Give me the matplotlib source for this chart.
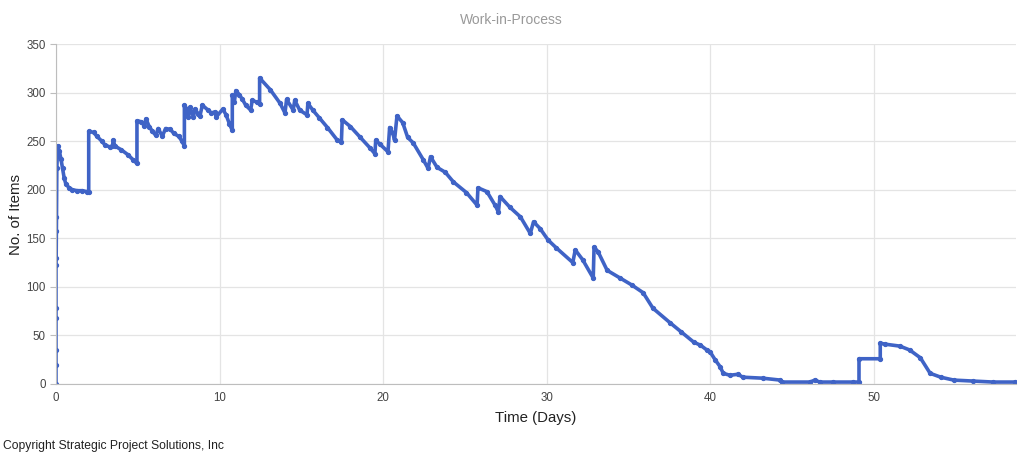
import matplotlib
matplotlib.use("Agg")
import matplotlib.pyplot as plt

plt.rcParams['font.family'] = ['Liberation Sans', 'DejaVu Sans']

title = "Work-in-Process"
x_label = "Time (Days)"
y_label = "No. of Items"
copyright_text = "Copyright Strategic Project Solutions, Inc"

time_days = [
    0.0, 0.0, 0.0, 0.0, 0.0, 0.0, 0.01, 0.02, 0.03, 0.05,
    0.1, 0.2, 0.3, 0.4, 0.5, 0.6, 0.8, 1.0, 1.3, 1.6, 1.9, 2.0,
    2.0, 2.3, 2.5, 2.8, 3.0, 3.3, 3.45, 3.5, 3.6, 4.0, 4.4, 4.7, 4.95,
    4.95, 5.2, 5.4, 5.5, 5.7, 5.9, 6.1, 6.25, 6.5, 6.7, 7.0, 7.2, 7.5, 7.7, 7.85,
    7.85, 8.0, 8.1, 8.2, 8.4, 8.5, 8.7, 8.8, 8.95, 9.3, 9.5, 9.7, 9.8, 10.2, 10.4, 10.6, 10.78,
    10.78, 10.9, 11.0, 11.2, 11.4, 11.6, 11.9, 12.0, 12.3, 12.45,
    12.45, 13.1, 13.7, 14.0, 14.1, 14.5, 14.6, 14.9, 15.35, 15.4, 15.7, 16.1, 16.6, 17.2, 17.45,
    17.5, 18.0, 18.6, 19.2, 19.5,
    19.55, 19.8, 20.3, 20.4, 20.6, 20.7, 20.85, 21.2, 21.5, 21.85, 22.45, 22.75, 22.9, 23.3,
    23.8, 24.3, 25.1, 25.75, 25.8, 26.35, 26.85, 27.05, 27.15, 27.75, 28.4, 29.0, 29.2, 29.6,
    30.1, 30.6, 31.6, 31.75, 32.2, 32.85, 32.9, 33.15, 33.7, 34.5, 35.2, 35.9, 36.5, 37.55,
    38.2, 39.0, 39.4, 39.8, 40.0, 40.3, 40.6, 40.8, 41.2, 41.7, 42.0, 43.2, 44.3, 44.4,
    46.1, 46.4, 46.7, 47.5, 48.75, 49.1, 49.1, 50.4, 50.4, 50.7, 51.6, 52.2, 52.85, 53.45,
    54.1, 54.9, 56.1, 57.3, 58.65,
]

wip_items = [
    0, 20, 35, 68, 78, 122, 130, 158, 172, 222,
    245, 240, 232, 222, 212, 206, 202, 200, 199, 199, 198, 198,
    260, 259, 255, 250, 246, 244, 245, 251, 245, 241, 236, 231, 227,
    271, 270, 266, 273, 265, 260, 256, 263, 255, 263, 262, 258, 255, 250, 245,
    287, 283, 275, 285, 275, 283, 278, 276, 287, 282, 279, 280, 275, 283, 277, 268, 261,
    297, 290, 302, 298, 293, 287, 282, 292, 290, 288,
    315, 303, 289, 279, 293, 282, 292, 282, 277, 289, 282, 274, 264, 251, 249,
    272, 265, 254, 243, 237,
    251, 247, 239, 264, 258, 251, 276, 269, 254, 248, 231, 222, 234, 223,
    218, 208, 197, 184, 202, 198, 184, 177, 193, 182, 172, 155, 167, 160,
    148, 140, 125, 138, 128, 109, 141, 136, 117, 109, 102, 94, 78, 63,
    54, 43, 40, 35, 33, 25, 18, 11, 9, 10, 7, 6, 4, 2,
    2, 4, 2, 2, 2, 2, 26, 26, 42, 41, 39, 35, 27, 11,
    7, 4, 3, 2, 2,
]

x_ticks = [0, 10, 20, 30, 40, 50]
y_ticks = [0, 50, 100, 150, 200, 250, 300, 350]

fig = plt.figure(figsize=(10.24, 4.59), dpi=100)
ax = fig.add_axes([56/1024, 1 - 384/459, 960/1024, 340/459])

ax.plot(time_days, wip_items, color='#3f63c6', linewidth=2.6,
        marker='o', markersize=2.8, solid_joinstyle='round')

ax.set_xlim(0, 58.7)
ax.set_ylim(0, 350)
ax.set_xticks(x_ticks)
ax.set_yticks(y_ticks)
ax.grid(True, color='#e4e4e4', linewidth=0.9)
ax.set_axisbelow(True)
for s in ['top', 'right']:
    ax.spines[s].set_visible(False)
ax.spines['left'].set_color('#bdbdbd')
ax.spines['bottom'].set_color('#bdbdbd')
ax.tick_params(axis='both', colors='#bdbdbd', labelcolor='#444444', labelsize=8.3, length=4)
ax.tick_params(axis='x', length=0, pad=6)

ax.set_xlabel(x_label, fontsize=10.8, color='#222222', labelpad=5)
ax.set_ylabel(y_label, fontsize=10.8, color='#222222', labelpad=2)
fig.text(0.499, 1 - 20/459, title, ha='center', va='center', fontsize=10, color='#999999')
fig.text(3/1024, 1 - 446/459, copyright_text, ha='left', va='center', fontsize=8.7, color='#222222')

fig.savefig('out.png', dpi=100)
